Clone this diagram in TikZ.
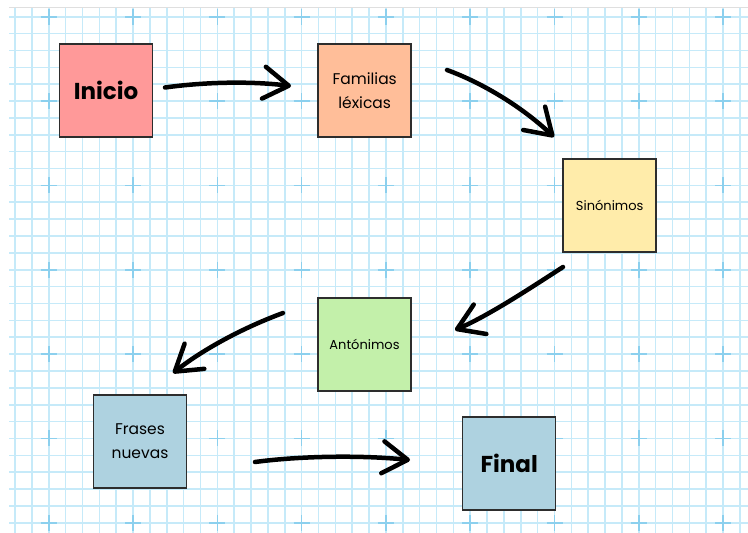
\documentclass[tikz,border=0pt]{standalone}
\usepackage{fontspec}
\setmainfont{Poppins}
\usetikzlibrary{arrows.meta}
\definecolor{gridline}{RGB}{198,234,249}
\definecolor{gridmark}{RGB}{140,208,238}
\definecolor{boxline}{RGB}{45,45,45}
\definecolor{inicioc}{RGB}{255,153,153}
\definecolor{familiasc}{RGB}{255,190,153}
\definecolor{sinonimosc}{RGB}{255,236,170}
\definecolor{antonimosc}{RGB}{195,240,170}
\definecolor{finalc}{RGB}{174,210,224}
\tikzstyle{box} = [draw=boxline, line width=1.5pt, minimum size=93pt, inner sep=0pt, align=center]
\tikzstyle{bigtext} = [font=\fontsize{23}{24}\selectfont\bfseries]
\tikzstyle{midtext} = [font=\fontsize{15.5}{24}\selectfont]
\tikzstyle{smalltext} = [font=\fontsize{13}{14}\selectfont]
\tikzstyle{arr} = [line width=4.5pt, line cap=round, -{Straight Barb[length=25pt, width=32pt, line cap=round, line join=round]}]

\begin{document}
\begin{tikzpicture}[x=1pt, y=-1pt]
    \useasboundingbox (0,0) rectangle (748,533);
    \fill[white] (0,0) rectangle (748,533);
    % squared paper
    \foreach \i in {0,...,43}
        \draw[gridline, line width=1.6pt] ({15+16.86*\i},7) -- ({15+16.86*\i},533);
    \foreach \j in {0,...,30}
        \draw[gridline, line width=1.6pt] (9,{16.7+16.87*\j}) -- (748,{16.7+16.87*\j});
    \foreach \i in {0,...,8}
        \foreach \j in {0,...,6} {
            \draw[gridmark, line width=1.6pt] ({48.7+84.3*\i-8},{16.7+84.35*\j}) -- ({48.7+84.3*\i+8},{16.7+84.35*\j});
            \draw[gridmark, line width=1.6pt] ({48.7+84.3*\i},{16.7+84.35*\j-8}) -- ({48.7+84.3*\i},{16.7+84.35*\j+8});
        }
    \draw[gray!25, line width=1pt] (9,7) -- (748,7);

    % steps
    \draw (106,90.5) node[box, fill=inicioc, bigtext] (inicio) {Inicio};
    \draw (364.7,90.5) node[box, fill=familiasc, midtext] (familias) {Familias\\léxicas};
    \draw (609.7,205.3) node[box, fill=sinonimosc, smalltext] (sinonimos) {Sinónimos};
    \draw (364.5,344.3) node[box, fill=antonimosc, smalltext] (antonimos) {Antónimos};
    \draw (140,441.3) node[box, fill=finalc, midtext] (frases) {Frases\\nuevas};
    \draw (509.2,463.7) node[box, fill=finalc, bigtext] (final) {Final};

    % arrow ends
    \coordinate (inicio-out) at (165,87.5);
    \coordinate (familias-in) at (291,86);
    \coordinate (familias-out) at (447,70);
    \coordinate (sinonimos-in) at (554,137);
    \coordinate (sinonimos-out) at (563,267);
    \coordinate (antonimos-in) at (455,330);
    \coordinate (antonimos-out) at (283,313);
    \coordinate (frases-in) at (173,373);
    \coordinate (frases-out) at (255,462);
    \coordinate (final-in) at (410,460);

    \draw [arr] (inicio-out) .. controls (205,82) and (250,81) .. (familias-in);
    \draw [arr] (familias-out) .. controls (480,82) and (520,105) .. (sinonimos-in);
    \draw [arr] (sinonimos-out) .. controls (535,285) and (490,315) .. (antonimos-in);
    \draw [arr] (antonimos-out) .. controls (245,327) and (205,348) .. (frases-in);
    \draw [arr] (frases-out) .. controls (300,456) and (360,455) .. (final-in);
\end{tikzpicture}
\end{document}
